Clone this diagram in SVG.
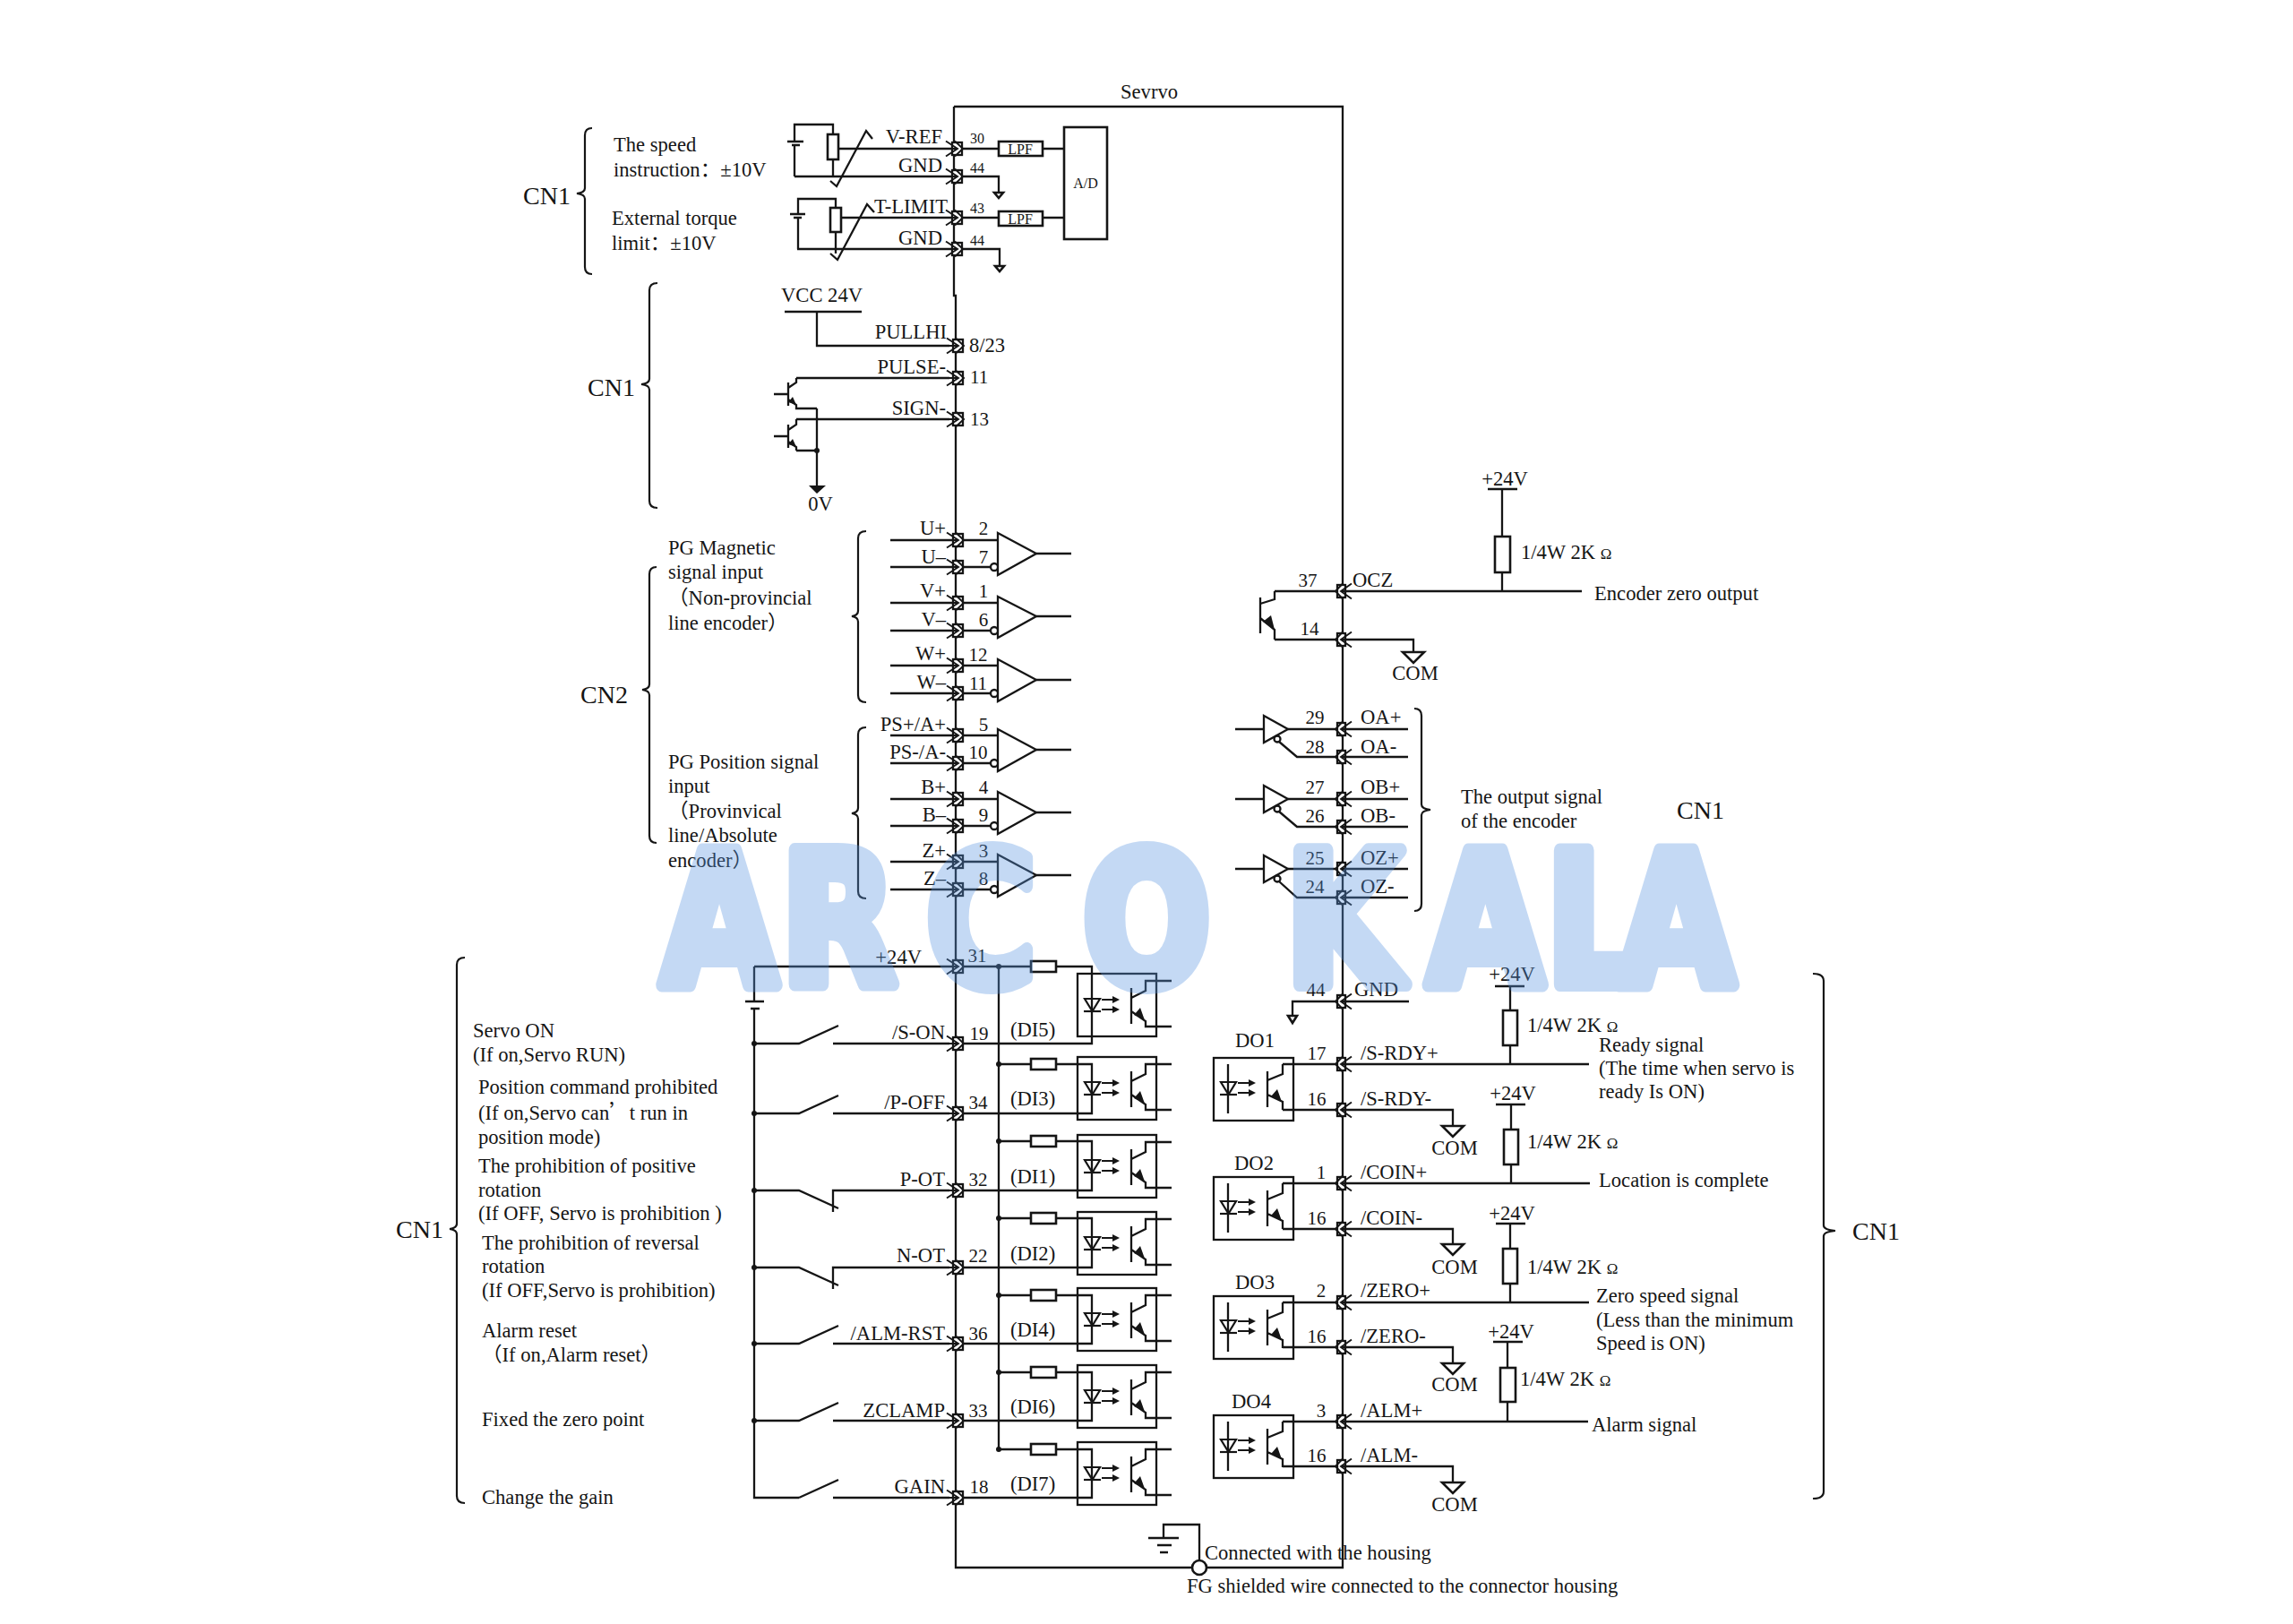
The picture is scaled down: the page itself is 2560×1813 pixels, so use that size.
<svg xmlns="http://www.w3.org/2000/svg" width="2560" height="1813" viewBox="0 0 2560 1813">
<style>
text{font-family:"Liberation Serif","Noto Sans CJK SC",serif;font-size:22.6px;fill:#151515}
.s{font-size:16px}.n{font-size:21px}.b{font-size:28px}.o{font-size:17px}
.m{text-anchor:middle}.e{text-anchor:end}
.w,.w path,.w line{fill:none;stroke:#151515;stroke-width:2.3}
.k{fill:#151515;stroke:none}
.r{fill:#fff;stroke:#151515;stroke-width:2.6}
.br{fill:none;stroke:#151515;stroke-width:2.2}
.wm{font-family:"DejaVu Sans",sans-serif;font-weight:700;font-size:205px;fill:#5995e2;stroke:#5995e2;stroke-width:16px;stroke-linejoin:round;opacity:.35}
</style>
<defs>
<g id="cr"><rect x="-3" y="-7" width="11" height="14" fill="#fff"/><path fill="none" stroke="#151515" stroke-width="1.9" d="M-10,-8.500L3,0L-10,8.500M0,-8.500L9,0L0,8.500M-10,0H3"/></g>
<g id="cl"><rect x="-6" y="-7" width="9" height="14" fill="#fff"/><path fill="none" stroke="#151515" stroke-width="1.9" d="M0,-8.500L-8,0L0,8.500M10,-8.500L-2,0L10,8.500M-2,0H10"/></g>
<rect id="rh" class="r" width="28" height="12" y="-6"/>
<path id="tri" fill="#fff" stroke="#151515" stroke-width="2.6" d="M-12,0H12L0,12Z"/>
<g id="led" fill="none" stroke="#151515" stroke-width="2.2">
<path d="M-8,0H9L0.500,14Z"/><path d="M-9,14H10"/>
<path d="M11,1H26M11,12H26"/><path class="k" d="M23,-3L31,1L23,5ZM23,8L31,12L23,16Z"/>
</g>
<g id="di" fill="none" stroke="#151515" stroke-width="2.3">
<rect width="88" height="70"/>
<use href="#led" x="16" y="28"/>
<path d="M60,16V56M60,27L76,19V8H105M60,42L76,53V59H105"/>
<path class="k" d="M75,52L63,46L70,38Z"/>
</g>
<g id="do" fill="none" stroke="#151515" stroke-width="2.3">
<rect width="89" height="70"/>
<path d="M16,7V62"/>
<use href="#led" x="16" y="27"/>
<path d="M60,15V55M60,25L77,18V7M60,41L77,49V58"/>
<path class="k" d="M76,49L64,43L71,35Z"/>
</g>
</defs>
<rect width="2560" height="1813" fill="#fff"/>

<g id="connectors" class="w">
<path d="M1065,119V330H1067V1750H1499V119H1065"/>
<path d="M930,166H1065M887,197H1065M1073,166H1115M1164,166H1188M1073,197H1115V215M934,243H1065M890,278H1065M1073,243H1115M1164,243H1188M1073,278H1116V297"/>
<path d="M927,202L934,208L967,146L974,155M927,283L935,290L968,228L976,237"/>
<path d="M912,348V386H1060M889,422H1060M889,468H1060"/>
<path d="M912,456V542M889,503H912"/>
<path d="M994,603H1114M994,633H1106M994,673H1114M994,704H1106M994,743H1114M994,774H1106M994,821H1114M994,852H1106M994,892H1114M994,922H1106M994,962H1114M994,993H1106"/>
<path d="M1157,618H1196M1157,688H1196M1157,759H1196M1157,837H1196M1157,907H1196M1157,977H1196"/>
<path d="M1423,660H1766M1677,546V599M1677,639V660M1423,714H1578V728"/>
<path d="M1379,814H1411M1438,814H1572M1428,828L1448,845H1572M1379,892H1411M1438,892H1572M1428,906L1448,923H1572M1379,970H1411M1438,970H1572M1428,984L1448,1002H1572"/>
<path d="M842,1079H1067M1075,1079H1151M1179,1079H1219V1165H1075M1115,1079V1618"/>
<path d="M1115,1188H1151M1179,1188H1219V1243H1075M1115,1274H1151M1179,1274H1219V1329H1075M1115,1360H1151M1179,1360H1219V1415H1075M1115,1446H1151M1179,1446H1219V1500H1075M1115,1532H1151M1179,1532H1219V1586H1075M1115,1618H1151M1179,1618H1219V1672H1075"/>
<path d="M842,1079V1118M842,1126V1672H892"/>
<path d="M842,1165H892L936,1145M930,1165H1060M842,1243H892L936,1223M930,1243H1060M842,1329H892L936,1349M930,1353V1329H1060M842,1415H892L936,1435M930,1439V1415H1060M842,1500H892L936,1480M930,1500H1060M842,1586H892L936,1566M930,1586H1060M892,1672L936,1652M930,1672H1060"/>
<path d="M1443,1134V1118H1573M1432,1188H1774M1432,1239H1622V1257M1432,1321H1775M1432,1372H1622V1389M1432,1454H1774M1432,1504H1622V1522M1432,1587H1773M1432,1637H1622V1655"/>
<path d="M1686,1101V1188M1687,1233V1321M1686,1366V1454M1683,1498V1587"/>
<path d="M1282,1717H1316M1292,1725H1308M1295,1733H1304M1299,1717V1702H1339V1750"/>
<use href="#cr" x="1066" y="166"/><use href="#cr" x="1066" y="197"/><use href="#cr" x="1066" y="243"/><use href="#cr" x="1066" y="278"/>
<use href="#cr" x="1067" y="386"/><use href="#cr" x="1067" y="422"/><use href="#cr" x="1067" y="468"/>
<use href="#cr" x="1067" y="603"/><use href="#cr" x="1067" y="633"/><use href="#cr" x="1067" y="673"/><use href="#cr" x="1067" y="704"/><use href="#cr" x="1067" y="743"/><use href="#cr" x="1067" y="774"/><use href="#cr" x="1067" y="821"/><use href="#cr" x="1067" y="852"/><use href="#cr" x="1067" y="892"/><use href="#cr" x="1067" y="922"/><use href="#cr" x="1067" y="962"/><use href="#cr" x="1067" y="993"/>
<use href="#cr" x="1067" y="1079"/><use href="#cr" x="1067" y="1165"/><use href="#cr" x="1067" y="1243"/><use href="#cr" x="1067" y="1329"/><use href="#cr" x="1067" y="1415"/><use href="#cr" x="1067" y="1500"/><use href="#cr" x="1067" y="1586"/><use href="#cr" x="1067" y="1672"/>
<use href="#cl" x="1499" y="660"/><use href="#cl" x="1499" y="714"/><use href="#cl" x="1499" y="814"/><use href="#cl" x="1499" y="845"/><use href="#cl" x="1499" y="892"/><use href="#cl" x="1499" y="923"/><use href="#cl" x="1499" y="970"/><use href="#cl" x="1499" y="1002"/><use href="#cl" x="1499" y="1118"/><use href="#cl" x="1499" y="1188"/><use href="#cl" x="1499" y="1239"/><use href="#cl" x="1499" y="1321"/><use href="#cl" x="1499" y="1372"/><use href="#cl" x="1499" y="1454"/><use href="#cl" x="1499" y="1504"/><use href="#cl" x="1499" y="1587"/><use href="#cl" x="1499" y="1637"/>
<g class="k"><circle cx="842" cy="1165" r="3"/><circle cx="842" cy="1243" r="3"/><circle cx="842" cy="1329" r="3"/><circle cx="842" cy="1415" r="3"/><circle cx="842" cy="1500" r="3"/><circle cx="842" cy="1586" r="3"/>
<circle cx="1115" cy="1079" r="3"/><circle cx="1115" cy="1188" r="3"/><circle cx="1115" cy="1274" r="3"/><circle cx="1115" cy="1360" r="3"/><circle cx="1115" cy="1446" r="3"/><circle cx="1115" cy="1532" r="3"/><circle cx="1115" cy="1618" r="3"/><circle cx="912" cy="503" r="3"/></g>
</g>

<g id="braces" class="br">
<path class="br" d="M661,143Q653,143 653,151V210Q653,215 644,216Q653,217 653,222V298Q653,306 661,306"/>
<path class="br" d="M734,316Q725,316 725,324V423Q725,428 716,429Q725,430 725,435V559Q725,567 734,567"/>
<path class="br" d="M733,633Q725,633 725,641V764Q725,769 717,770Q725,771 725,776V933Q725,941 733,941"/>
<path class="br" d="M967,593Q958,593 958,601V682Q958,687 951,688Q958,689 958,694V776Q958,784 967,784"/>
<path class="br" d="M967,812Q958,812 958,820V902Q958,907 951,908Q958,909 958,914V995Q958,1003 967,1003"/>
<path class="br" d="M1579,791Q1587,791 1587,799V898Q1587,903 1597,904Q1587,905 1587,910V1009Q1587,1017 1579,1017"/>
<path class="br" d="M519,1069Q510,1069 510,1077V1366Q510,1371 502,1372Q510,1373 510,1378V1670Q510,1678 519,1678"/>
<path class="br" d="M2024,1087Q2036,1087 2036,1095V1368Q2036,1373 2049,1374Q2036,1375 2036,1380V1665Q2036,1673 2024,1673"/>
</g>

<g id="servo-title"><text class="m" x="1283" y="110">Sevrvo</text></g>

<g id="analog-inputs">
<g class="w"><path d="M879,158H897M884,162H893M887,158V139H930V150M887,162V197M930,178V197"/>
<path d="M882,239H899M886,243H895M891,239V222H933V232M891,243V278M933,259V283"/></g>
<rect class="r" x="924" y="150" width="12" height="28"/>
<rect class="r" x="927" y="232" width="12" height="27"/>
<rect class="r" x="1115" y="158" width="49" height="16"/><text class="s m" x="1139" y="172">LPF</text>
<rect class="r" x="1115" y="236" width="49" height="16"/><text class="s m" x="1139" y="250">LPF</text>
<rect class="r" x="1188" y="142" width="48" height="125"/><text class="s m" x="1212" y="210">A/D</text>
<path class="r" d="M1110,215H1120L1115,221ZM1111,297H1121L1116,303Z"/>
<text class="e" x="1052" y="160">V-REF</text><text class="e" x="1052" y="192">GND</text><text class="e" x="1058" y="238">T-LIMIT</text><text class="e" x="1052" y="273">GND</text>
<text class="s" x="1083" y="160">30</text><text class="s" x="1083" y="193">44</text><text class="s" x="1083" y="238">43</text><text class="s" x="1083" y="274">44</text>
<text class="b" x="584" y="228">CN1</text>
<text x="685" y="169">The speed</text><text x="685" y="197">instruction：±10V</text><text x="683" y="251">External torque</text><text x="683" y="279">limit：±10V</text>
</g>

<g id="pulse-inputs">
<g class="w"><path d="M876,348H962"/>
<path d="M864,440H880M880,427V453M880,433L889,427V422M880,446L889,452V456H912"/>
<path d="M864,487H880M880,474V500M880,480L889,474V468M880,493L889,499V503"/></g>
<path class="k" d="M889,452L880,449L885,443ZM889,499L880,496L885,490ZM903,542H922L912,551Z"/>
<text x="872" y="337">VCC 24V</text>
<text class="e" x="1057" y="378">PULLHI</text><text class="e" x="1056" y="417">PULSE-</text><text class="e" x="1056" y="463">SIGN-</text>
<text x="1082" y="393">8/23</text><text class="n" x="1083" y="428">11</text><text class="n" x="1083" y="475">13</text>
<text class="m" x="916" y="570">0V</text>
<text class="b" x="656" y="442">CN1</text>
</g>

<g id="encoder-inputs">
<g fill="#fff" stroke="#151515" stroke-width="2.3">
<path d="M1114,595L1157,618L1114,642Z"/><path d="M1114,666L1157,688L1114,712Z"/><path d="M1114,736L1157,759L1114,783Z"/><path d="M1114,814L1157,837L1114,861Z"/><path d="M1114,884L1157,907L1114,931Z"/><path d="M1114,954L1157,977L1114,1001Z"/>
<circle cx="1110" cy="633" r="4"/><circle cx="1110" cy="704" r="4"/><circle cx="1110" cy="774" r="4"/><circle cx="1110" cy="852" r="4"/><circle cx="1110" cy="922" r="4"/><circle cx="1110" cy="993" r="4"/>
</g>
<text class="e" x="1056" y="597">U+</text><text class="e" x="1056" y="629">U–</text><text class="e" x="1056" y="667">V+</text><text class="e" x="1056" y="699">V–</text><text class="e" x="1056" y="737">W+</text><text class="e" x="1056" y="769">W–</text><text class="e" x="1056" y="816">PS+/A+</text><text class="e" x="1056" y="847">PS-/A-</text><text class="e" x="1056" y="886">B+</text><text class="e" x="1056" y="917">B–</text><text class="e" x="1056" y="957">Z+</text><text class="e" x="1056" y="988">Z–</text>
<text class="n m" x="1098" y="597">2</text><text class="n m" x="1098" y="629">7</text><text class="n m" x="1098" y="667">1</text><text class="n m" x="1098" y="699">6</text><text class="n m" x="1092" y="738">12</text><text class="n m" x="1092" y="770">11</text><text class="n m" x="1098" y="816">5</text><text class="n m" x="1092" y="847">10</text><text class="n m" x="1098" y="886">4</text><text class="n m" x="1098" y="917">9</text><text class="n m" x="1098" y="957">3</text><text class="n m" x="1098" y="988">8</text>
<text class="b" x="648" y="785">CN2</text>
<text x="746" y="619">PG Magnetic</text><text x="746" y="646">signal input</text><text x="746" y="675">（Non-provincial</text><text x="746" y="703">line encoder）</text>
<text x="746" y="858">PG Position signal</text><text x="746" y="885">input</text><text x="746" y="913">（Provinvical</text><text x="746" y="940">line/Absolute</text><text x="746" y="968">encoder）</text>
</g>

<g id="encoder-zero">
<g class="w"><path d="M1661,546H1694M1407,667V707M1407,674L1423,669V660M1407,690L1423,703V714"/></g>
<path class="k" d="M1423,703L1410,694L1419,687Z"/>
<rect class="r" x="1669" y="599" width="17" height="40"/>
<use href="#tri" x="1578" y="728"/>
<text class="m" x="1680" y="542">+24V</text>
<text x="1698" y="624">1/4W 2K <tspan class="o">Ω</tspan></text>
<text class="n m" x="1460" y="655">37</text><text x="1510" y="655">OCZ</text><text class="n m" x="1462" y="709">14</text>
<text x="1780" y="670">Encoder zero output</text><text class="m" x="1580" y="759">COM</text>
</g>

<g id="encoder-outputs">
<g fill="#fff" stroke="#151515" stroke-width="2.3">
<path d="M1411,799L1438,814L1411,829Z"/><path d="M1411,877L1438,892L1411,907Z"/><path d="M1411,955L1438,970L1411,985Z"/>
<circle cx="1426" cy="825" r="3.500"/><circle cx="1426" cy="903" r="3.500"/><circle cx="1426" cy="981" r="3.500"/>
</g>
<text class="n m" x="1468" y="808">29</text><text class="n m" x="1468" y="841">28</text><text class="n m" x="1468" y="886">27</text><text class="n m" x="1468" y="918">26</text><text class="n m" x="1468" y="965">25</text><text class="n m" x="1468" y="997">24</text>
<text x="1519" y="808">OA+</text><text x="1519" y="841">OA-</text><text x="1519" y="886">OB+</text><text x="1519" y="918">OB-</text><text x="1519" y="965">OZ+</text><text x="1519" y="997">OZ-</text>
<text x="1631" y="897">The output signal</text><text x="1631" y="924">of the encoder</text>
<text class="b" x="1872" y="914">CN1</text>
</g>

<g id="digital-inputs">
<g class="w"><path d="M832,1118H853M838,1126H848"/></g>
<use href="#rh" x="1151" y="1079"/><use href="#rh" x="1151" y="1188"/><use href="#rh" x="1151" y="1274"/><use href="#rh" x="1151" y="1360"/><use href="#rh" x="1151" y="1446"/><use href="#rh" x="1151" y="1532"/><use href="#rh" x="1151" y="1618"/>
<use href="#di" x="1203" y="1087"/><use href="#di" x="1203" y="1180"/><use href="#di" x="1203" y="1267"/><use href="#di" x="1203" y="1353"/><use href="#di" x="1203" y="1438"/><use href="#di" x="1203" y="1524"/><use href="#di" x="1203" y="1610"/>
<text class="e" x="1029" y="1076">+24V</text><text class="n m" x="1091" y="1074">31</text>
<text class="e" x="1055" y="1160">/S-ON</text><text class="e" x="1055" y="1238">/P-OFF</text><text class="e" x="1055" y="1324">P-OT</text><text class="e" x="1055" y="1409">N-OT</text><text class="e" x="1055" y="1496">/ALM-RST</text><text class="e" x="1055" y="1582">ZCLAMP</text><text class="e" x="1055" y="1667">GAIN</text>
<text class="n m" x="1093" y="1161">19</text><text class="n m" x="1092" y="1238">34</text><text class="n m" x="1092" y="1324">32</text><text class="n m" x="1092" y="1409">22</text><text class="n m" x="1092" y="1496">36</text><text class="n m" x="1092" y="1582">33</text><text class="n m" x="1093" y="1667">18</text>
<text x="1128" y="1157">(DI5)</text><text x="1128" y="1234">(DI3)</text><text x="1128" y="1321">(DI1)</text><text x="1128" y="1407">(DI2)</text><text x="1128" y="1492">(DI4)</text><text x="1128" y="1578">(DI6)</text><text x="1128" y="1664">(DI7)</text>
<text class="b" x="442" y="1382">CN1</text>
<text x="528" y="1158">Servo ON</text><text x="528" y="1185">(If on,Servo RUN)</text>
<text x="534" y="1221">Position command prohibited</text><text x="534" y="1250">(If on,Servo can<tspan font-family="Noto Sans CJK SC">’</tspan>t run in</text><text x="534" y="1277">position mode)</text>
<text x="534" y="1309">The prohibition of positive</text><text x="534" y="1336">rotation</text><text x="534" y="1362">(If OFF, Servo is prohibition )</text>
<text x="538" y="1395">The prohibition of reversal</text><text x="538" y="1421">rotation</text><text x="538" y="1448">(If OFF,Servo is prohibition)</text>
<text x="538" y="1493">Alarm reset</text><text x="538" y="1520">（If on,Alarm reset）</text>
<text x="538" y="1592">Fixed the zero point</text><text x="538" y="1679">Change the gain</text>
</g>

<g id="digital-outputs">
<path class="r" d="M1438,1134H1448L1443,1142Z"/>
<use href="#do" x="1355" y="1181"/><use href="#do" x="1355" y="1314"/><use href="#do" x="1355" y="1447"/><use href="#do" x="1355" y="1580"/>
<g class="w"><path d="M1669,1101H1702M1670,1233H1703M1670,1366H1703M1667,1498H1700"/></g>
<rect class="r" x="1678" y="1128" width="16" height="39"/><rect class="r" x="1679" y="1261" width="16" height="39"/><rect class="r" x="1678" y="1394" width="16" height="39"/><rect class="r" x="1675" y="1527" width="17" height="38"/>
<use href="#tri" x="1622" y="1257"/><use href="#tri" x="1622" y="1389"/><use href="#tri" x="1622" y="1522"/><use href="#tri" x="1622" y="1655"/>
<text class="n m" x="1469" y="1112">44</text><text x="1512" y="1112">GND</text>
<text class="m" x="1401" y="1169">DO1</text><text class="m" x="1400" y="1306">DO2</text><text class="m" x="1401" y="1439">DO3</text><text class="m" x="1397" y="1572">DO4</text>
<text class="n m" x="1470" y="1183">17</text><text class="n m" x="1470" y="1234">16</text><text class="n m" x="1475" y="1316">1</text><text class="n m" x="1470" y="1367">16</text><text class="n m" x="1475" y="1448">2</text><text class="n m" x="1470" y="1499">16</text><text class="n m" x="1475" y="1582">3</text><text class="n m" x="1470" y="1632">16</text>
<text x="1519" y="1183">/S-RDY+</text><text x="1519" y="1234">/S-RDY-</text><text x="1519" y="1316">/COIN+</text><text x="1519" y="1367">/COIN-</text><text x="1519" y="1448">/ZERO+</text><text x="1519" y="1499">/ZERO-</text><text x="1519" y="1582">/ALM+</text><text x="1519" y="1632">/ALM-</text>
<text class="m" x="1624" y="1289">COM</text><text class="m" x="1624" y="1422">COM</text><text class="m" x="1624" y="1553">COM</text><text class="m" x="1624" y="1687">COM</text>
<text class="m" x="1688" y="1095">+24V</text><text class="m" x="1689" y="1228">+24V</text><text class="m" x="1688" y="1362">+24V</text><text class="m" x="1687" y="1494">+24V</text>
<text x="1705" y="1152">1/4W 2K <tspan class="o">Ω</tspan></text><text x="1705" y="1282">1/4W 2K <tspan class="o">Ω</tspan></text><text x="1705" y="1422">1/4W 2K <tspan class="o">Ω</tspan></text><text x="1697" y="1547">1/4W 2K <tspan class="o">Ω</tspan></text>
<text x="1785" y="1174">Ready signal</text><text x="1785" y="1200">(The time when servo is</text><text x="1785" y="1226">ready Is ON)</text>
<text x="1785" y="1325">Location is complete</text>
<text x="1782" y="1454">Zero speed signal</text><text x="1782" y="1481">(Less than the minimum</text><text x="1782" y="1507">Speed is ON)</text>
<text x="1777" y="1598">Alarm signal</text>
<text class="b" x="2068" y="1384">CN1</text>
</g>

<g id="shield">
<circle cx="1339" cy="1750" r="8" fill="#fff" stroke="#151515" stroke-width="2.6"/>
<text x="1345" y="1741">Connected with the housing</text>
<text x="1325" y="1778">FG shielded wire connected to the connector housing</text>
</g>

<text id="watermark" class="wm" transform="translate(0,1099) scale(.82,1)" x="900 1063 1261 1474 1750 1943 2105 2203" y="0">ARCOKALA</text>
</svg>
